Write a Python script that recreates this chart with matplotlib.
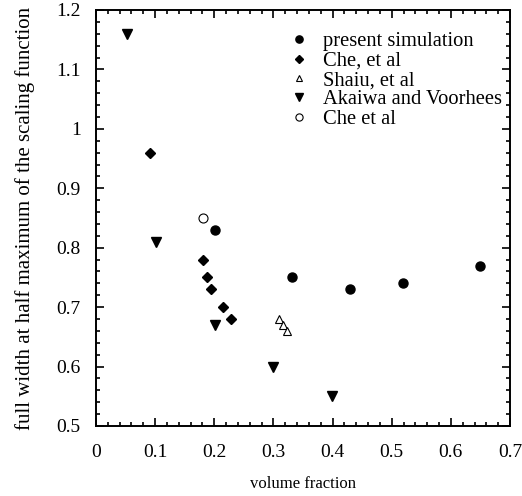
import matplotlib
matplotlib.use('Agg')
import matplotlib.pyplot as plt
from matplotlib.ticker import MultipleLocator, FormatStrFormatter

plt.rcParams['font.family'] = 'Liberation Serif'
plt.rcParams['font.size'] = 14

# data
sim_x = [0.202, 0.331, 0.430, 0.519, 0.649]
sim_y = [0.83, 0.75, 0.73, 0.74, 0.77]

che_x = [0.091, 0.181, 0.188, 0.194, 0.214, 0.229]
che_y = [0.96, 0.78, 0.75, 0.73, 0.70, 0.68]

shaiu_x = [0.309, 0.317, 0.323]
shaiu_y = [0.68, 0.67, 0.66]

akaiwa_x = [0.052, 0.101, 0.202, 0.300, 0.399]
akaiwa_y = [1.16, 0.81, 0.67, 0.60, 0.55]

che2_x = [0.181]
che2_y = [0.85]

fig = plt.figure(figsize=(5.22, 4.96), dpi=100)
ax = fig.add_axes([96/522, 1 - 426/496, 414/522, 416/496])

ax.plot(sim_x, sim_y, 'o', color='black', markersize=6.5, label='present simulation')
ax.plot(che_x, che_y, 'D', color='black', markersize=5, label='Che, et al')
ax.plot(shaiu_x, shaiu_y, '^', markerfacecolor='white', markeredgecolor='black',
        markersize=6, markeredgewidth=0.8, label='Shaiu, et al')
ax.plot(akaiwa_x, akaiwa_y, 'v', color='black', markersize=6.5, label='Akaiwa and Voorhees')
ax.plot(che2_x, che2_y, 'o', markerfacecolor='white', markeredgecolor='black',
        markersize=6.5, markeredgewidth=0.8, label='Che et al')

ax.set_xlim(0, 0.7)
ax.set_ylim(0.5, 1.2)
ax.xaxis.set_major_locator(MultipleLocator(0.1))
ax.xaxis.set_minor_locator(MultipleLocator(0.02))
ax.yaxis.set_major_locator(MultipleLocator(0.1))
ax.yaxis.set_minor_locator(MultipleLocator(0.02))
ax.xaxis.set_major_formatter(FormatStrFormatter('%g'))
ax.yaxis.set_major_formatter(FormatStrFormatter('%g'))
ax.tick_params(which='both', direction='in', top=True, right=True, width=1.2)
ax.tick_params(which='major', length=6)
ax.tick_params(which='minor', length=3)
ax.tick_params(axis='x', which='major', pad=13)
ax.tick_params(axis='y', which='major', pad=11)
for s in ax.spines.values():
    s.set_linewidth(1.4)

ax.set_xlabel('volume fraction', fontsize=12, labelpad=11)
ax.set_ylabel('full width at half maximum of the scaling function', fontsize=15)
ax.yaxis.set_label_coords(-0.147, 0.5)

ax.legend(loc='upper left', bbox_to_anchor=(0.44, 0.972), frameon=False, fontsize=14.8,
          handlelength=1, handletextpad=0.7, labelspacing=0.0, borderpad=0,
          markerscale=0.8)

fig.savefig('out.png', dpi=100)
